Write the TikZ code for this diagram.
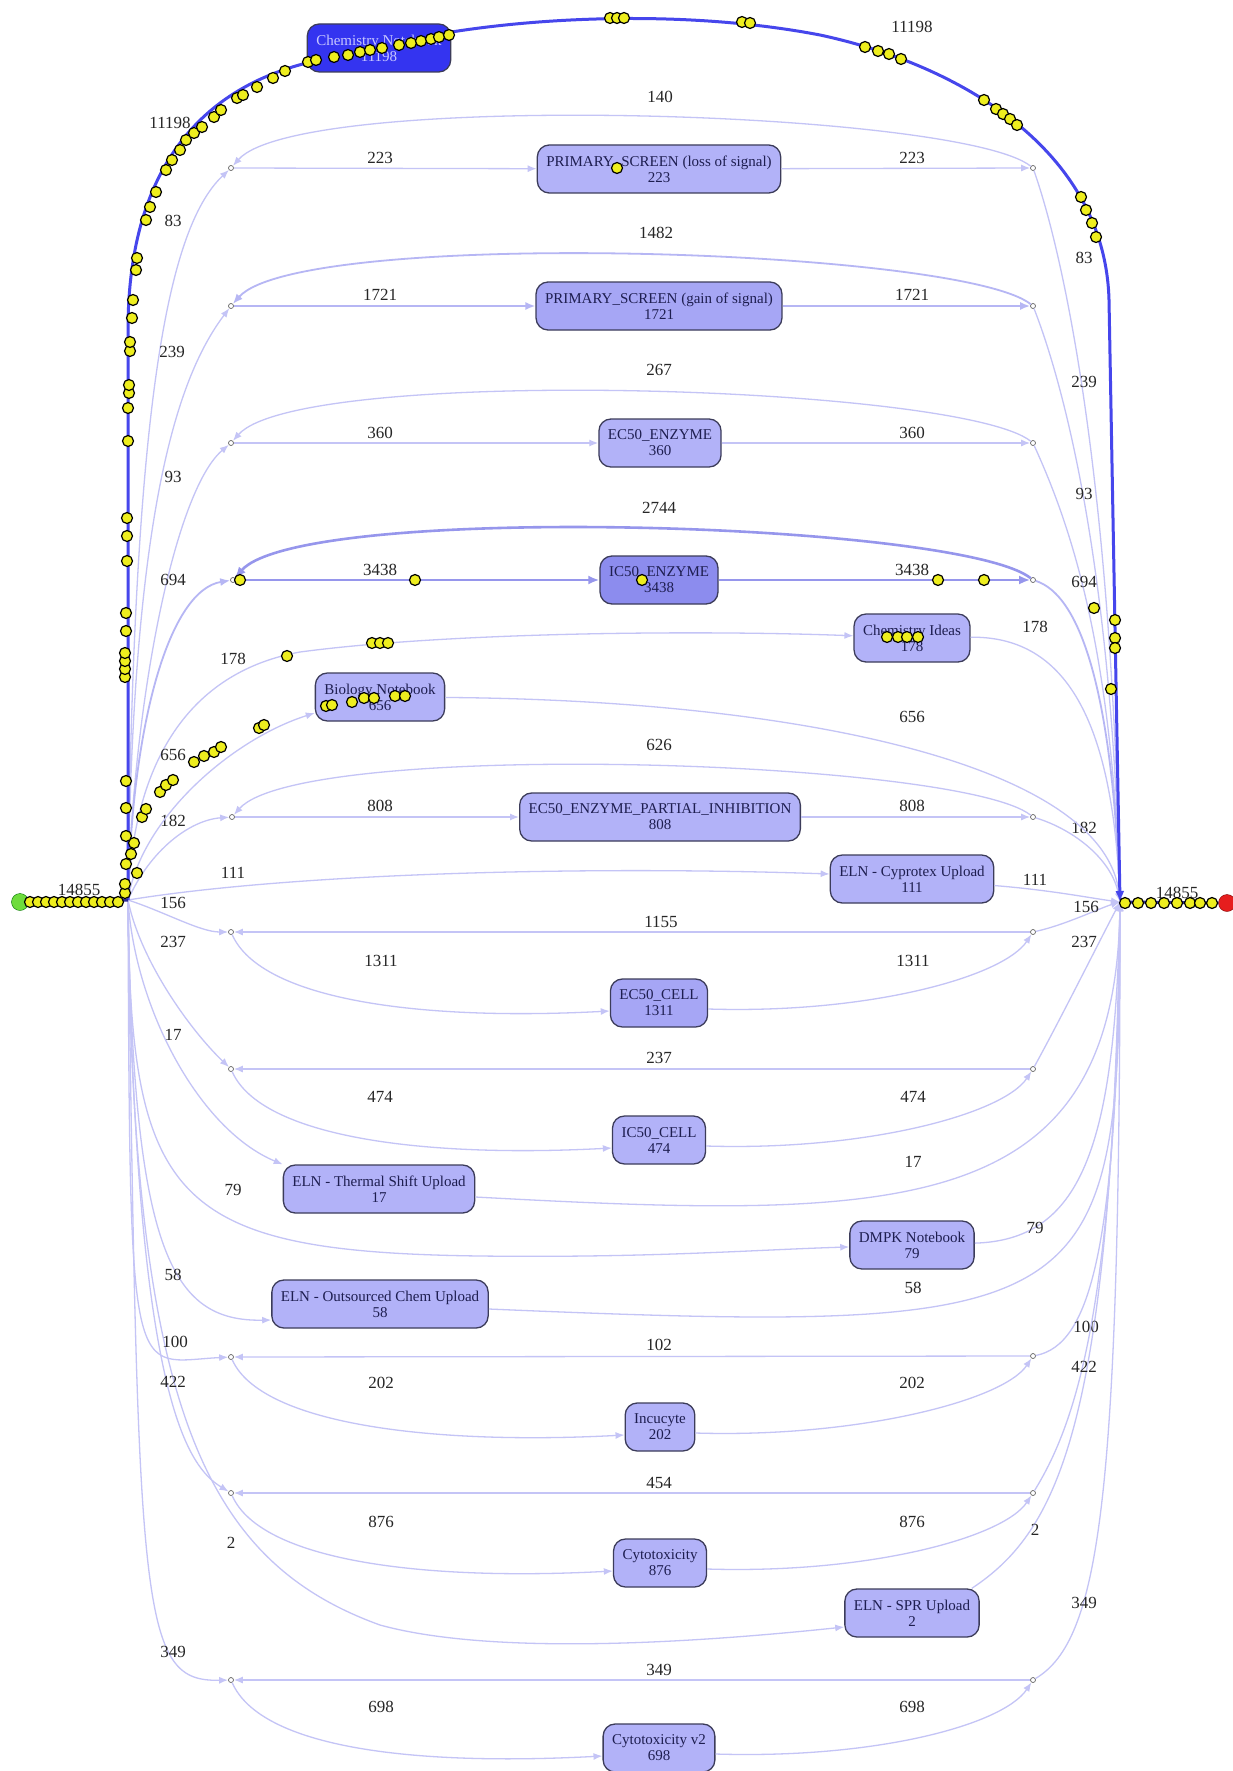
\documentclass[tikz,border=0pt]{standalone}
\usepackage{fontspec}
\setmainfont{Liberation Serif}
\usetikzlibrary{arrows.meta}

\definecolor{flowc}{RGB}{196,196,246}
\definecolor{flowm}{RGB}{182,182,244}
\definecolor{flowh}{RGB}{150,150,236}
\definecolor{mainc}{RGB}{70,70,236}
\definecolor{endsc}{RGB}{45,45,150}
\definecolor{actfill}{RGB}{178,178,248}
\definecolor{actmid}{RGB}{166,166,245}
\definecolor{acthot}{RGB}{140,140,238}
\definecolor{actmain}{RGB}{52,52,240}
\definecolor{actline}{RGB}{60,60,90}
\definecolor{acttext}{RGB}{30,30,80}
\definecolor{tokfill}{RGB}{238,238,30}
\definecolor{startc}{RGB}{110,220,60}
\definecolor{endc}{RGB}{230,30,30}

\begin{document}
\begin{tikzpicture}[x=1pt,y=-1pt]
      \tikzset{act/.style={draw=actline, fill=actfill, line width=1.3pt, rounded corners=12pt,
        align=center, text=acttext, font=\fontsize{15}{16}\selectfont, inner xsep=9pt,
        minimum height=48pt}}
      \tikzset{joinpt/.style={circle, draw=black!60, fill=white, line width=0.7pt,
        minimum size=5pt, inner sep=0pt}}
      \tikzset{flow/.style={draw=flowc, line width=1.3pt, -{Latex[length=9pt,width=7pt]}}}
      \tikzset{flowmid/.style={draw=flowm, line width=1.8pt, -{Latex[length=10pt,width=8pt]}}}
      \tikzset{flowhot/.style={draw=flowh, line width=2.6pt, -{Latex[length=11pt,width=9pt]}}}
      \tikzset{mainflow/.style={draw=mainc, line width=3pt}}
      \tikzset{endsflow/.style={draw=endsc, line width=3pt}}
      \tikzset{lbl/.style={font=\fontsize{17}{17}\selectfont, text=black!85, inner sep=0pt}}
      \tikzset{tok/.style={draw=black, fill=tokfill, line width=1.2pt}}

      \fill[white] (0,0) rectangle (1232,1771);
      \useasboundingbox (0,0) rectangle (1232,1771);

      % activities
      \node[act, fill=actmain, text={rgb,255:red,200;green,200;blue,255}] (chemNB) at (379,48) {Chemistry Notebook\\11198};
      \node[act] (psLoss) at (659,169) {PRIMARY\_SCREEN (loss of signal)\\223};
      \node[act, fill=actmid] (psGain) at (659,306) {PRIMARY\_SCREEN (gain of signal)\\1721};
      \node[act] (ec50Enz) at (660,443) {EC50\_ENZYME\\360};
      \node[act, fill=acthot] (ic50Enz) at (659,580) {IC50\_ENZYME\\3438};
      \node[act] (chemIdeas) at (912,638) {Chemistry Ideas\\178};
      \node[act] (bioNB) at (380,697) {Biology Notebook\\656};
      \node[act] (ec50Part) at (660,817) {EC50\_ENZYME\_PARTIAL\_INHIBITION\\808};
      \node[act] (cyprotex) at (912,879) {ELN - Cyprotex Upload\\111};
      \node[act, fill=actmid] (ec50Cell) at (659,1003) {EC50\_CELL\\1311};
      \node[act] (ic50Cell) at (659,1140) {IC50\_CELL\\474};
      \node[act] (thermal) at (379,1189) {ELN - Thermal Shift Upload\\17};
      \node[act] (dmpk) at (912,1245) {DMPK Notebook\\79};
      \node[act] (outsourced) at (380,1304) {ELN - Outsourced Chem Upload\\58};
      \node[act] (incucyte) at (660,1427) {Incucyte\\202};
      \node[act] (cytotox) at (660,1563) {Cytotoxicity\\876};
      \node[act] (spr) at (912,1613) {ELN - SPR Upload\\2};
      \node[act] (cytotox2) at (659,1748) {Cytotoxicity v2\\698};

      % start, end and the small join points
      \node[circle, draw=green!45!black, fill=startc, minimum size=17pt, inner sep=0pt] (start) at (20,902) {};
      \node[circle, draw=red!50!black, fill=endc, minimum size=17pt, inner sep=0pt] (end) at (1227,903) {};
      \coordinate (fork) at (128,900);
      \coordinate (merge) at (1120,902);
      \node[joinpt] (s223L) at (231,168) {};   \node[joinpt] (s223R) at (1033,168) {};
      \node[joinpt] (s1721L) at (231,306) {};  \node[joinpt] (s1721R) at (1033,306) {};
      \node[joinpt] (s360L) at (231,443) {};   \node[joinpt] (s360R) at (1033,443) {};
      \node[joinpt] (s3438L) at (233,580) {};  \node[joinpt] (s3438R) at (1033,580) {};
      \node[joinpt] (s808L) at (232,817) {};   \node[joinpt] (s808R) at (1033,817) {};
      \node[joinpt] (s1311L) at (231,932) {};  \node[joinpt] (s1311R) at (1033,932) {};
      \node[joinpt] (s474L) at (231,1069) {};  \node[joinpt] (s474R) at (1033,1069) {};
      \node[joinpt] (s202L) at (231,1357) {};  \node[joinpt] (s202R) at (1033,1356) {};
      \node[joinpt] (s876L) at (231,1493) {};  \node[joinpt] (s876R) at (1033,1493) {};
      \node[joinpt] (s698L) at (231,1680) {};  \node[joinpt] (s698R) at (1033,1680) {};

      % rows with a loop above
      \draw[flow] (fork) .. controls (133,420) and (165,230) .. (s223L) node[lbl] at (173,221) {83};
      \draw[flow] (s223L) -- (psLoss) node[lbl] at (380,158) {223};
      \draw[flow] (psLoss) -- (s223R) node[lbl] at (912,158) {223};
      \draw[flow] (s223R) .. controls +(-73,-58) and +(69,-78) .. (s223L) node[lbl] at (660,97) {140};
      \draw[flow] (s223R) .. controls (1062,250) and (1112,470) .. (merge) node[lbl] at (1084,258) {83};

      \draw[flow] (fork) .. controls (132,520) and (175,380) .. (s1721L) node[lbl] at (172,352) {239};
      \draw[flowmid] (s1721L) -- (psGain) node[lbl] at (380,295) {1721};
      \draw[flowmid] (psGain) -- (s1721R) node[lbl] at (912,295) {1721};
      \draw[flowmid] (s1721R) .. controls +(-73,-58) and +(69,-78) .. (s1721L) node[lbl] at (656,233) {1482};
      \draw[flow] (s1721R) .. controls (1062,380) and (1112,560) .. (merge) node[lbl] at (1084,382) {239};

      \draw[flow] (fork) .. controls (133,700) and (175,490) .. (s360L) node[lbl] at (173,477) {93};
      \draw[flow] (s360L) -- (ec50Enz) node[lbl] at (380,433) {360};
      \draw[flow] (ec50Enz) -- (s360R) node[lbl] at (912,433) {360};
      \draw[flow] (s360R) .. controls +(-73,-58) and +(69,-78) .. (s360L) node[lbl] at (659,370) {267};
      \draw[flow] (s360R) .. controls (1068,520) and (1112,640) .. (merge) node[lbl] at (1084,494) {93};

      \draw[flowmid] (fork) .. controls (132,720) and (170,590) .. (s3438L) node[lbl] at (173,580) {694};
      \draw[flowhot] (s3438L) -- (ic50Enz) node[lbl] at (380,570) {3438};
      \draw[flowhot] (ic50Enz) -- (s3438R) node[lbl] at (912,570) {3438};
      \draw[flowhot] (s3438R) .. controls +(-73,-58) and +(69,-78) .. (s3438L) node[lbl] at (659,508) {2744};
      \draw[flowmid] (s3438R) .. controls (1080,595) and (1112,690) .. (merge) node[lbl] at (1084,582) {694};

      \draw[flow] (fork) .. controls (150,850) and (190,820) .. (s808L) node[lbl] at (173,821) {182};
      \draw[flow] (s808L) -- (ec50Part) node[lbl] at (380,806) {808};
      \draw[flow] (ec50Part) -- (s808R) node[lbl] at (912,806) {808};
      \draw[flow] (s808R) .. controls +(-73,-58) and +(69,-78) .. (s808L) node[lbl] at (659,745) {626};
      \draw[flow] (s808R) .. controls (1075,830) and (1112,860) .. (merge) node[lbl] at (1084,828) {182};

      % single activities
      \coordinate (ci1) at (300,652);
      \draw[flow] (fork) .. controls (133,760) and (190,672) .. (ci1) .. controls (450,632) and (700,630) .. (chemIdeas) node[lbl] at (233,659) {178};
      \draw[flow] (chemIdeas) .. controls (1060,636) and (1112,710) .. (merge) node[lbl] at (1035,627) {178};
      \draw[flow] (fork) .. controls (140,820) and (230,740) .. ([yshift=-16pt]bioNB.west) node[lbl] at (173,755) {656};
      \draw[flow] (bioNB) .. controls (800,700) and (1105,765) .. (merge) node[lbl] at (912,717) {656};
      \draw[flow] (fork) .. controls (300,872) and (600,866) .. ([yshift=5pt]cyprotex.west) node[lbl] at (233,873) {111};
      \draw[flow] (cyprotex) .. controls (1050,890) and (1090,898) .. (merge) node[lbl] at (1035,880) {111};
      \draw[flow] (fork) .. controls (135,1010) and (200,1130) .. (thermal.north west) node[lbl] at (173,1035) {17};
      \draw[flow] ([yshift=-8pt]thermal.east) .. controls (900,1220) and (1115,1220) .. (merge) node[lbl] at (913,1162) {17};
      \coordinate (dm1) at (480,1256);
      \draw[flow] (fork) .. controls (130,1200) and (170,1252) .. (dm1) .. controls (650,1258) and (750,1250) .. (dmpk) node[lbl] at (233,1190) {79};
      \draw[flow] (dmpk) .. controls (1080,1240) and (1115,1150) .. (merge) node[lbl] at (1035,1228) {79};
      \draw[flow] (fork) .. controls (133,1250) and (170,1322) .. ([yshift=-16pt]outsourced.west) node[lbl] at (173,1275) {58};
      \draw[flow] ([yshift=-5pt]outsourced.east) .. controls (1100,1335) and (1120,1320) .. (merge) node[lbl] at (913,1288) {58};
      \coordinate (sp1) at (380,1625);
      \draw[flow] (fork) .. controls (132,1400) and (200,1560) .. (sp1) .. controls (500,1658) and (720,1640) .. ([yshift=-14pt]spr.west) node[lbl] at (231,1543) {2};
      \draw[flow] ([xshift=-8pt]spr.north east) .. controls (1060,1530) and (1112,1420) .. (merge) node[lbl] at (1035,1530) {2};

      % rows with a loop straight across
      \draw[flow] (fork) .. controls (165,912) and (200,932) .. (s1311L) node[lbl] at (173,903) {156};
      \draw[flow] (s1311R) -- (s1311L) node[lbl] at (661,922) {1155};
      \draw[flow] (s1311L) .. controls +(30,68) and +(-190,10) .. ([yshift=-8pt]ec50Cell.west) node[lbl] at (381,961) {1311};
      \draw[flow] ([yshift=-6pt]ec50Cell.east) .. controls +(160,5) and +(-30,45) .. (s1311R) node[lbl] at (913,961) {1311};
      \draw[flow] (s1311R) .. controls (1065,925) and (1100,908) .. (merge) node[lbl] at (1086,907) {156};

      \draw[flow] (fork) .. controls (140,960) and (190,1030) .. (s474L) node[lbl] at (173,942) {237};
      \draw[flow] (s474R) -- (s474L) node[lbl] at (659,1058) {237};
      \draw[flow] (s474L) .. controls +(30,68) and +(-190,10) .. ([yshift=-8pt]ic50Cell.west) node[lbl] at (380,1097) {474};
      \draw[flow] ([yshift=-6pt]ic50Cell.east) .. controls +(160,5) and +(-30,45) .. (s474R) node[lbl] at (913,1097) {474};
      \draw[flow] (s474R) .. controls (1060,1020) and (1100,940) .. (merge) node[lbl] at (1084,942) {237};

      \draw[flow] (fork) .. controls (130,1400) and (130,1362) .. (s202L) node[lbl] at (175,1342) {100};
      \draw[flow] (s202R) -- (s202L) node[lbl] at (659,1345) {102};
      \draw[flow] (s202L) .. controls +(30,68) and +(-190,10) .. ([yshift=-8pt]incucyte.west) node[lbl] at (381,1383) {202};
      \draw[flow] ([yshift=-6pt]incucyte.east) .. controls +(160,5) and +(-30,45) .. (s202R) node[lbl] at (912,1383) {202};
      \draw[flow] (s202R) .. controls (1090,1345) and (1118,1250) .. (merge) node[lbl] at (1086,1327) {100};

      \draw[flow] (fork) .. controls (135,1390) and (185,1465) .. (s876L) node[lbl] at (173,1382) {422};
      \draw[flow] (s876R) -- (s876L) node[lbl] at (659,1483) {454};
      \draw[flow] (s876L) .. controls +(30,68) and +(-190,10) .. ([yshift=-8pt]cytotox.west) node[lbl] at (381,1522) {876};
      \draw[flow] ([yshift=-6pt]cytotox.east) .. controls +(160,5) and +(-30,45) .. (s876R) node[lbl] at (912,1522) {876};
      \draw[flow] (s876R) .. controls (1078,1420) and (1116,1300) .. (merge) node[lbl] at (1084,1367) {422};

      \draw[flow] (fork) .. controls (138,1620) and (140,1682) .. (s698L) node[lbl] at (173,1652) {349};
      \draw[flow] (s698R) -- (s698L) node[lbl] at (659,1670) {349};
      \draw[flow] (s698L) .. controls +(30,68) and +(-190,10) .. ([yshift=-8pt]cytotox2.west) node[lbl] at (381,1707) {698};
      \draw[flow] ([yshift=-6pt]cytotox2.east) .. controls +(160,5) and +(-30,45) .. (s698R) node[lbl] at (912,1707) {698};
      \draw[flow] (s698R) .. controls (1100,1640) and (1120,1500) .. (merge) node[lbl] at (1084,1603) {349};

      % main path over Chemistry Notebook
      \coordinate (m1) at (128,330);
      \coordinate (m2) at (820,35);
      \coordinate (m3) at (1109,300);
      \draw[mainflow] (fork) -- (m1) .. controls (128,170) and (200,90) .. ([yshift=-15pt]chemNB.west) node[lbl] at (170,123) {11198};
      \draw[mainflow, -{Latex[length=11pt,width=9pt]}] ([yshift=16pt]chemNB.east) .. controls (560,15) and (700,12) .. (m2)
        .. controls (960,65) and (1105,150) .. (m3) -- (merge) node[lbl] at (912,27) {11198};

      % start and end
      \draw[endsflow] (start) -- (fork) node[lbl] at (79,890) {14855};
      \draw[endsflow] (merge) -- (end) node[lbl] at (1177,893) {14855};

      % tokens
      \foreach \tx/\ty in {30/902,38/902,46/902,54/902,62/902,70/902,78/902,86/902,94/902,102/902,110/902,118/902,
        125/893,125/884,137/873,126/864,131/854,134/843,126/836,126/808,126/781,
        125/677,125/669,125/661,125/653,126/631,126/613,127/561,127/536,127/518,128/441,128/408,129/393,129/385,
        130/351,130/342,132/318,133/300,136/270,137/258,
        146/220,150/207,156/192,166/170,172/160,180/150,186/140,194/133,202/127,214/117,221/110,237/98,243/95,
        257/87,273/78,285/71,308/62,316/60,334/57,348/55,360/52,370/50,382/48,399/45,411/43,421/41,431/39,439/37,449/35,
        610/18,617/18,624/18,742/22,750/23,865/47,878/51,889/54,901/59,984/100,996/109,1003/114,1010/119,1017/125,
        1081/197,1086/210,1092/223,1096/237,
        1115/620,1115/638,1115/648,1094/608,1111/689,
        240/580,415/580,642/580,938/580,984/580,617/168,
        287/656,372/643,380/643,388/643,887/637,898/637,907/637,918/637,
        142/817,146/809,160/792,166/785,173/780,194/762,204/756,214/752,221/747,259/728,264/725,
        326/706,332/705,352/702,364/698,374/698,395/696,405/696,
        1125/903,1138/903,1151/903,1164/903,1177/903,1190/903,1200/903,1212/903}
        \draw[tok] (\tx,\ty) circle (5.5pt);
\end{tikzpicture}
\end{document}
